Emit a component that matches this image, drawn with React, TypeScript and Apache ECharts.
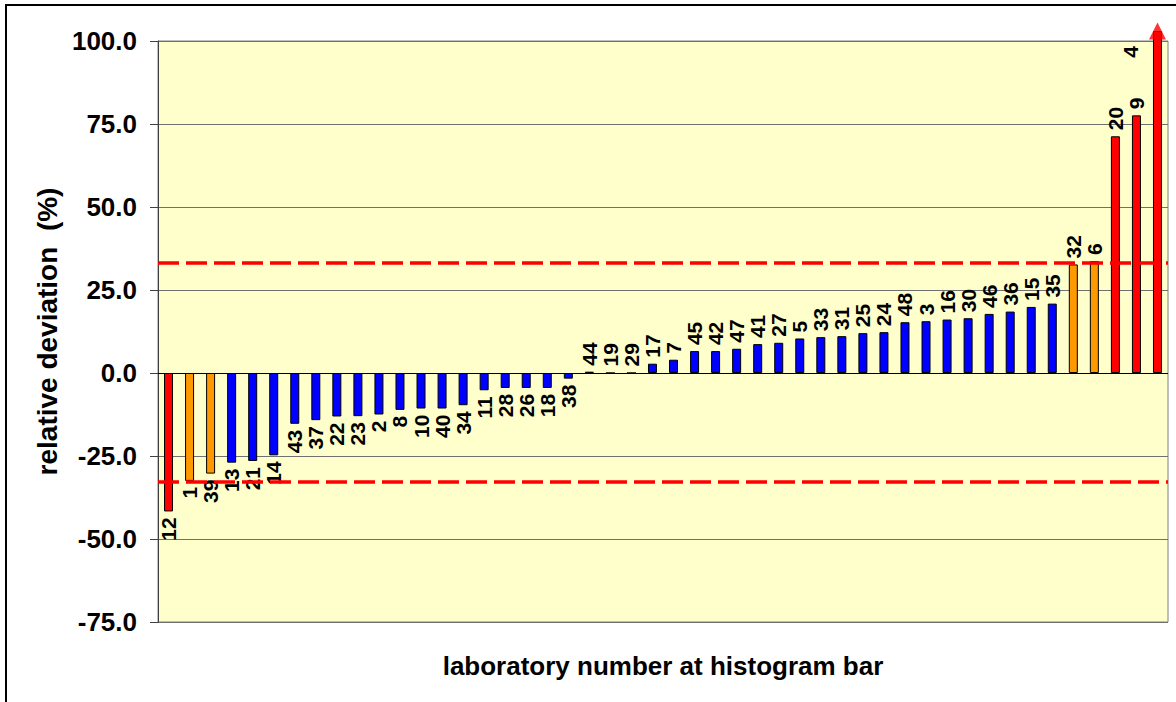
import React, { useEffect, useRef } from "react";
import * as echarts from "echarts";

const labs = ["12","1","39","13","21","14","43","37","22","23","2","8","10","40","34","11","28","26","18","38","44","19","29","17","7","45","42","47","41","27","5","33","31","25","24","48","3","16","30","46","36","15","35","32","6","20","9","4"];
const values = [-41.7,-32.5,-30.3,-27.0,-26.5,-24.8,-15.3,-14.2,-13.1,-13.0,-12.5,-11.1,-10.7,-10.7,-9.7,-5.2,-4.5,-4.5,-4.5,-1.7,0.4,0,0,2.8,4.0,6.6,6.6,7.3,8.7,9.1,10.4,10.8,11.1,12.0,12.3,15.3,15.6,16.1,16.5,17.8,18.5,19.9,20.9,32.7,33.7,71.3,77.6,103];
const status = ["out","warn","warn",
  "ok","ok","ok","ok","ok","ok","ok","ok","ok","ok",
  "ok","ok","ok","ok","ok","ok","ok","ok","ok","ok",
  "ok","ok","ok","ok","ok","ok","ok","ok","ok","ok",
  "ok","ok","ok","ok","ok","ok","ok","ok","ok","ok",
  "warn","warn","out","out","out"];
const limits = [33.2, -32.8];
const yTicks = { min: -75, max: 100, interval: 25 };
const arrowLab = "4";
const arrowValue = 103;

const colors: Record<string, string> = { out: "#FF0000", warn: "#FF9900", ok: "#0000FF" };
const FONT = "'Liberation Sans', Arial, sans-serif";

export default function App() {
  const ref = useRef<HTMLDivElement>(null);
  useEffect(() => {
    document.body.style.margin = "0";
    const chart = echarts.init(ref.current!, null, { renderer: "svg" });
    const data = values.map((v, i) => {
      const lab = labs[i];
      let label: any;
      if (lab === arrowLab) {
        label = { position: [-22, 15], align: "right", verticalAlign: "middle" };
      } else if (v >= 0) {
        label = { position: "top", align: "left", verticalAlign: "middle" };
      } else {
        label = { position: "bottom", align: "right", verticalAlign: "middle" };
      }
      return { value: v, itemStyle: { color: colors[status[i]] }, label };
    });
    chart.setOption({
      animation: false,
      backgroundColor: "#FFFFFF",
      graphic: [
        {
          type: "rect",
          shape: { x: 6, y: 5, width: 1200, height: 800 },
          style: { fill: "none", stroke: "#000", lineWidth: 2 },
          silent: true,
        },
      ],
      grid: {
        left: 158, top: 41, right: 8, bottom: 80,
        show: true, backgroundColor: "#FFFFCC", borderColor: "#808080", borderWidth: 1,
      },
      xAxis: {
        type: "category",
        data: labs,
        axisLine: { show: false, onZero: false },
        axisTick: { show: false },
        axisLabel: { show: false },
        splitLine: { show: false },
        name: "laboratory number at histogram bar",
        nameLocation: "middle",
        nameGap: 31,
        nameTextStyle: { fontFamily: FONT, fontWeight: "bold", fontSize: 26, color: "#000" },
      },
      yAxis: {
        type: "value",
        min: yTicks.min, max: yTicks.max, interval: yTicks.interval,
        axisLine: { show: true, lineStyle: { color: "#404040", width: 1 } },
        axisTick: { show: true, length: 8, lineStyle: { color: "#404040" } },
        axisLabel: {
          margin: 21, fontFamily: FONT, fontWeight: "bold", fontSize: 26, color: "#000",
          formatter: (v: number) => v.toFixed(1),
        },
        splitLine: { show: true, lineStyle: { color: "#707070", width: 1 } },
        name: "relative deviation  (%)",
        nameLocation: "middle",
        nameRotate: 90,
        nameGap: 92,
        nameTextStyle: { fontFamily: FONT, fontWeight: "bold", fontSize: 28, color: "#000" },
      },
      series: [
        {
          type: "bar",
          data,
          barWidth: 9,
          clip: false,
          itemStyle: { borderColor: "#000", borderWidth: 1 },
          label: {
            show: true,
            rotate: 90,
            distance: 6,
            formatter: (p: any) => labs[p.dataIndex],
            fontFamily: FONT, fontWeight: "bold", fontSize: 21, color: "#000",
          },
          markLine: {
            silent: true,
            symbol: "none",
            label: { show: false },
            data: [
              { yAxis: 0, lineStyle: { color: "#000", width: 1, type: "solid" } },
              ...limits.map((l) => ({ yAxis: l, lineStyle: { color: "#FF0000", width: 3.5, type: [21, 7] } })),
            ],
          },
        },
        {
          type: "scatter",
          clip: false,
          silent: true,
          symbol: "triangle",
          symbolSize: [17, 17],
          itemStyle: { color: "#FF0000" },
          data: [[labs.indexOf(arrowLab), arrowValue]],
          z: 5,
        },
      ],
    });
    return () => chart.dispose();
  }, []);
  return <div ref={ref} style={{ width: 1176, height: 702 }} />;
}
